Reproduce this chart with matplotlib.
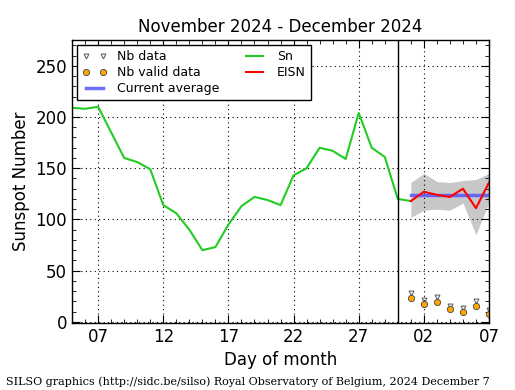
import numpy as np
import matplotlib
matplotlib.use('Agg')
import matplotlib.pyplot as plt
import matplotlib.dates as mdates
from matplotlib.ticker import MultipleLocator

# daily sunspot number Sn, Nov 5 - Dec 1 2024
sn_dates = np.arange(np.datetime64('2024-11-05'), np.datetime64('2024-12-02'))
sn = [209, 208, 210, 185, 160, 156, 149, 114, 106, 90, 70, 73, 95, 113,
      122, 119, 114, 143, 150, 170, 167, 159, 204, 170, 161, 120, 118]

# estimated ISN, Dec 1 - Dec 7
ei_dates = np.arange(np.datetime64('2024-12-01'), np.datetime64('2024-12-08'))
eisn = [118, 127, 124, 122, 130, 111, 136]
eisn_hi = [136, 145, 137, 136, 138, 139, 145]
eisn_lo = [102, 109, 110, 109, 116, 85, 117]
nb_data = [28, 21, 24, 16, 14, 20, 12]
nb_valid = [23, 17, 19, 13, 10, 16, 8]
current_avg = 124

fig = plt.figure(figsize=(5.15, 3.9), dpi=100)
ax = fig.add_axes([0.14, 0.172, 0.8095, 0.725])

ax.fill_between(ei_dates, eisn_lo, eisn_hi, color='#c8c8c8', lw=0)
ax.plot(ei_dates, nb_data, 'v', ms=3.5, mfc='none', mec='#666666', mew=0.8,
        label='Nb data')
ax.plot(ei_dates, nb_valid, 'o', ms=4.5, mfc='orange', mec='#444444', mew=0.6,
        label='Nb valid data')
ax.plot([ei_dates[0], ei_dates[-1]], [current_avg, current_avg], color='#5555ff',
        lw=2.5, alpha=0.85, label='Current average')
ax.plot(sn_dates, sn, color='#22cc22', lw=1.5, label='Sn')
ax.plot(ei_dates, eisn, color='red', lw=1.5, label='EISN')
ax.axvline(np.datetime64('2024-11-30'), color='black', lw=1)

ax.set_xlim(np.datetime64('2024-11-05'), np.datetime64('2024-12-07'))
ax.set_ylim(-1, 275)
ax.xaxis.set_major_locator(mdates.DayLocator(bymonthday=[2, 7, 12, 17, 22, 27]))
ax.xaxis.set_minor_locator(mdates.DayLocator())
ax.xaxis.set_major_formatter(mdates.DateFormatter('%d'))
ax.yaxis.set_major_locator(MultipleLocator(50))
ax.yaxis.set_minor_locator(MultipleLocator(10))
ax.tick_params(which='both', direction='in', top=True, right=True, labelsize=12)
ax.tick_params(which='major', length=6)
ax.tick_params(which='minor', length=3)
ax.grid(True, which='major', color='black', linestyle=(0, (1, 3)), lw=0.8)
for s in ax.spines.values():
    s.set_linewidth(1)

ax.set_title('November 2024 - December 2024', fontsize=12)
ax.set_xlabel('Day of month', fontsize=12)
ax.set_ylabel('Sunspot Number', fontsize=12)

leg = ax.legend(loc='upper left', ncol=2, fontsize=9, numpoints=2,
                fancybox=False, framealpha=1, edgecolor='black',
                borderaxespad=0.4, handlelength=2, columnspacing=1.8,
                labelspacing=0.25)
leg.get_frame().set_linewidth(1)

fig.text(0.012, 0.012, 'SILSO graphics (http://sidc.be/silso) Royal Observatory of Belgium, 2024 December 7',
         family='DejaVu Serif', fontsize=8)

fig.savefig('out.png', dpi=100)
